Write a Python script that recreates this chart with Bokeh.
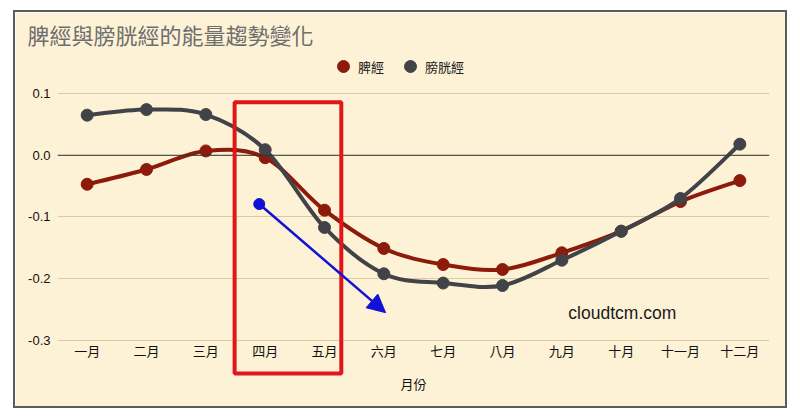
from bokeh.plotting import figure
from bokeh.models import (Range1d, FixedTicker, Span, BoxAnnotation, Arrow, NormalHead,
                          ColumnDataSource, Legend, LegendItem)
from bokeh.core.properties import value
from bokeh.embed import file_html
from bokeh.resources import INLINE

# ---------------- data ----------------
months = ["一月", "二月", "三月", "四月", "五月", "六月", "七月", "八月", "九月", "十月", "十一月", "十二月"]
spleen = [-0.047, -0.023, 0.007, -0.004, -0.089, -0.151, -0.177, -0.185, -0.158, -0.123, -0.075, -0.041]
bladder = [0.065, 0.074, 0.066, 0.009, -0.117, -0.192, -0.207, -0.211, -0.170, -0.123, -0.070, 0.018]
series_names = ["脾經", "膀胱經"]
y_ticks = [0.1, 0.0, -0.1, -0.2, -0.3]
y_tick_labels = ["0.1", "0.0", "-0.1", "-0.2", "-0.3"]
title_text = "脾經與膀胱經的能量趨勢變化"
x_title = "月份"
watermark = "cloudtcm.com"
# highlight box (x from/to in month index, y top/bottom) and arrow (start/end)
box_x = [2.485, 4.283]
box_y = [0.086, -0.3535]
arrow_x = [2.9, 5.03]
arrow_y = [-0.079, -0.255]

RED = "#8C1B0C"
GRAY = "#424349"
BG = "#FDF2D5"
CJK = "Noto Sans CJK TC"
LAT = "Liberation Sans"

xs = list(range(len(months)))


def bezier_source(ys):
    n = len(ys)
    d = dict(x0=[], y0=[], x1=[], y1=[], cx0=[], cy0=[], cx1=[], cy1=[])
    t = 1.0 / 6.0
    for i in range(n - 1):
        p0 = (xs[max(i - 1, 0)], ys[max(i - 1, 0)])
        p1 = (xs[i], ys[i])
        p2 = (xs[i + 1], ys[i + 1])
        p3 = (xs[min(i + 2, n - 1)], ys[min(i + 2, n - 1)])
        d["x0"].append(p1[0]); d["y0"].append(p1[1])
        d["x1"].append(p2[0]); d["y1"].append(p2[1])
        d["cx0"].append(p1[0] + (p2[0] - p0[0]) * t)
        d["cy0"].append(p1[1] + (p2[1] - p0[1]) * t)
        d["cx1"].append(p2[0] - (p3[0] - p1[0]) * t)
        d["cy1"].append(p2[1] - (p3[1] - p1[1]) * t)
    return ColumnDataSource(d)


p = figure(width=774, height=398, output_backend="svg", toolbar_location=None,
           x_range=Range1d(-0.5, 11.5), y_range=Range1d(-0.3973, 0.1665),
           min_border_left=42, min_border_right=20, min_border_top=38, min_border_bottom=10)
p.margin = (10, 0, 0, 13)
p.styles = {"border": "2px solid #5b5b5b"}
p.background_fill_color = BG
p.border_fill_color = BG
p.outline_line_color = None

p.title.text = title_text
p.title.text_font = CJK
p.title.text_font_size = "22px"
p.title.text_font_style = "normal"
p.title.text_color = "#6E6E6E"
p.title.text_line_height = 0.75
p.title.standoff = 6
p.title.align = "left"
p.title.offset = -30

p.xaxis.visible = False
p.xgrid.visible = False
ax = p.yaxis[0]
ax.ticker = FixedTicker(ticks=y_ticks)
ax.major_label_overrides = {t: l for t, l in zip(y_ticks, y_tick_labels)}
ax.axis_line_color = None
ax.major_tick_line_color = None
ax.minor_tick_line_color = None
ax.major_label_standoff = 1
ax.major_label_text_font = LAT
ax.major_label_text_font_size = "13px"
ax.major_label_text_color = "#111111"
p.ygrid.grid_line_color = "#D8CCA5"
p.ygrid.grid_line_width = 1

p.add_layout(Span(location=0, dimension="width", line_color="#333333", line_width=1))

# curves
p.bezier(x0="x0", y0="y0", x1="x1", y1="y1", cx0="cx0", cy0="cy0", cx1="cx1", cy1="cy1",
         source=bezier_source(spleen), line_color=RED, line_width=4, line_cap="round")
r_red = p.scatter(xs, spleen, size=12, fill_color=RED, line_color=RED)
p.bezier(x0="x0", y0="y0", x1="x1", y1="y1", cx0="cx0", cy0="cy0", cx1="cx1", cy1="cy1",
         source=bezier_source(bladder), line_color=GRAY, line_width=4, line_cap="round")
r_gray = p.scatter(xs, bladder, size=12, fill_color=GRAY, line_color=GRAY)

# month labels and axis title
p.text(x=xs, y=[-0.316] * len(xs), text=months, text_font=value(CJK), text_font_size="13px",
       text_color="#111111", text_align="center", text_baseline="middle")
p.text(x=[5.5], y=[-0.370], text=[x_title], text_font=value(CJK), text_font_size="13px",
       text_color="#111111", text_align="center", text_baseline="middle")
p.text(x=[8.11], y=[-0.256], text=[watermark], text_font=value(LAT), text_font_size="17.5px",
       text_color="#1A1A1A", text_align="left", text_baseline="middle")

# highlight box
p.add_layout(BoxAnnotation(left=box_x[0], right=box_x[1], top=box_y[0], bottom=box_y[1],
                           fill_alpha=0, line_color="#E0161B", line_alpha=1.0, line_width=4))
# arrow
BLUE = "#1111D6"
p.add_layout(Arrow(x_start=arrow_x[0], y_start=arrow_y[0], x_end=arrow_x[1], y_end=arrow_y[1],
                   line_color=BLUE, line_width=2.5,
                   end=NormalHead(size=18, fill_color=BLUE, line_color=BLUE)))
p.scatter([arrow_x[0]], [arrow_y[0]], size=11, fill_color=BLUE, line_color=BLUE)

legend = Legend(items=[LegendItem(label=series_names[0], renderers=[r_red]),
                       LegendItem(label=series_names[1], renderers=[r_gray])],
                orientation="horizontal", location=(271, 319),
                background_fill_alpha=0, border_line_alpha=0,
                padding=0, margin=0, spacing=11, label_standoff=0,
                glyph_width=30, glyph_height=30, label_height=14,
                label_text_font=CJK, label_text_font_size="13px", label_text_color="#222222")
p.add_layout(legend)

open("out.html", "w").write(file_html(p, INLINE))
